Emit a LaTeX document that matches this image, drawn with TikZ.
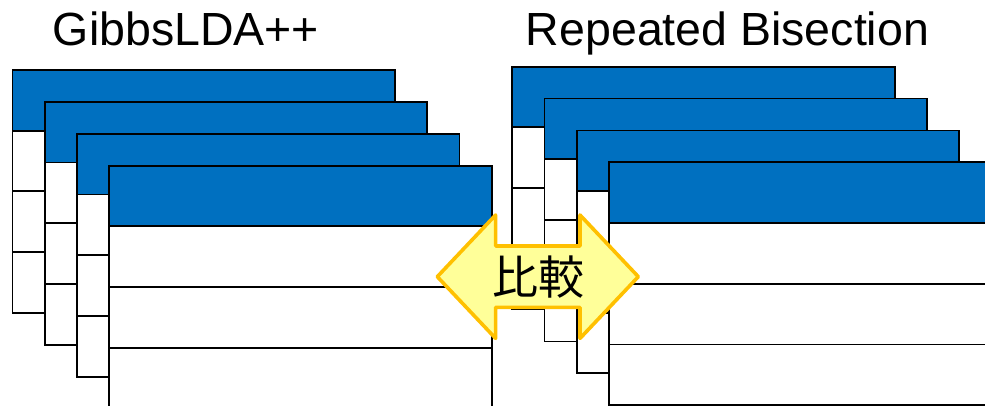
\documentclass[tikz,border=0pt]{standalone}
\usepackage{fontspec}
\setmainfont{Liberation Sans}
\newfontfamily\cjkfont{Noto Sans CJK JP}
\definecolor{hdrblue}{HTML}{0070C0}
\definecolor{arrowfill}{HTML}{FFFF99}
\definecolor{arrowedge}{HTML}{FFC000}
\tikzset{
  sheetline/.style={draw=black, line width=1.8pt},
  title/.style={anchor=base, inner sep=0pt, font=\fontsize{46.5}{50}\selectfont},
  cmparrow/.style={fill=arrowfill, draw=arrowedge, line width=3.6pt, line join=round},
  cmplabel/.style={inner sep=0pt, font=\cjkfont\fontsize{46}{46}\selectfont},
  % one table sheet: blue header row and three white rows
  datasheet/.pic={
    \fill[white] (0,0) rectangle (382.6,242.8);
    \fill[hdrblue] (0,0) rectangle (382.6,60.7);
    \draw[sheetline] (0,60.7) -- (382.6,60.7)
                     (0,121.4) -- (382.6,121.4)
                     (0,182.1) -- (382.6,182.1);
    \draw[sheetline] (0,0) rectangle (382.6,242.8);
  }
}
\begin{document}
\begin{tikzpicture}[x=1pt,y=-1pt]
\useasboundingbox (0,0) rectangle (985,406);
\clip (0,0) rectangle (985,406);

% titles
\node[title] (lefttitle) at (186,45.7) {GibbsLDA++};
\node[title] (righttitle) at (727.5,45.7) {Repeated Bisection};

% left stack of sheets
\foreach \i in {0,...,3}
  \pic at ({12.5+32.2*\i},{70+31.9*\i}) {datasheet};

% right stack of sheets
\foreach \i in {0,...,3}
  \pic at ({512.3+32.2*\i},{66.7+31.9*\i}) {datasheet};

% double-headed comparison arrow
\draw[cmparrow] (437.3,276.7) -- (495.6,215) -- (495.6,246) -- (580,246)
  -- (580,215) -- (638.3,276.7) -- (580,338.4) -- (580,307.4)
  -- (495.6,307.4) -- (495.6,338.4) -- cycle;
\node[cmplabel] (cmp) at (538.5,277) {比較};
\end{tikzpicture}
\end{document}
